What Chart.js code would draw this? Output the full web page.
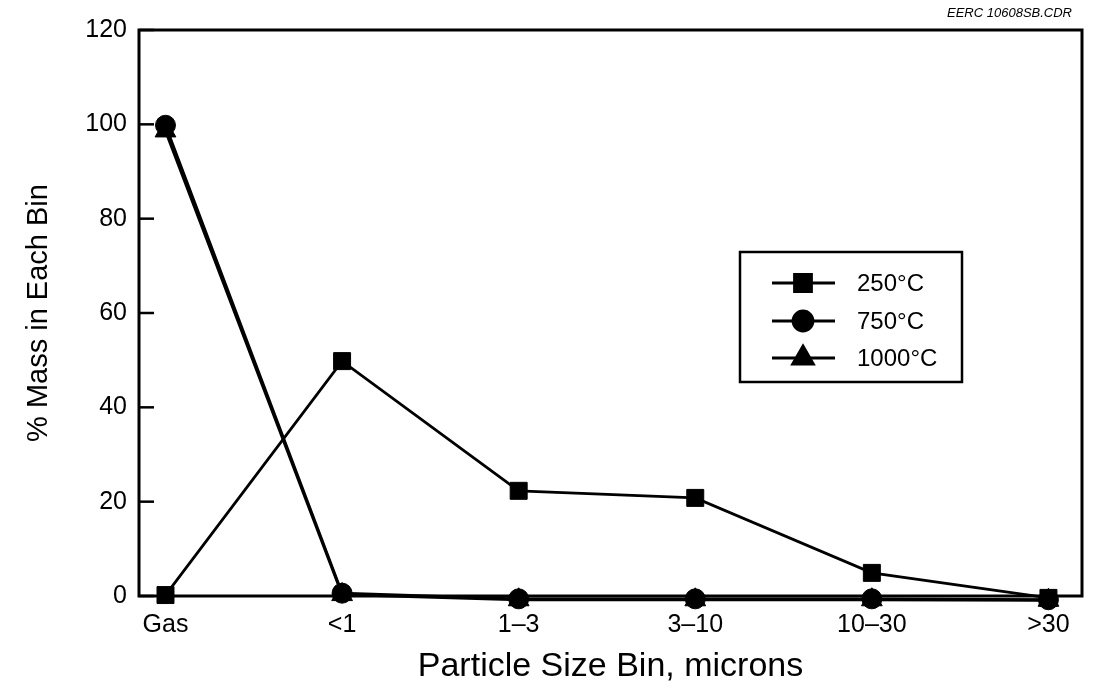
<!DOCTYPE html>
<html>
<head>
<meta charset="utf-8">
<script src="https://cdn.jsdelivr.net/npm/chart.js@4.4.1/dist/chart.umd.min.js"></script>
<style>
  html, body { margin: 0; padding: 0; background: #fff; }
  #wrap { position: relative; width: 1095px; height: 695px; }
</style>
</head>
<body>
<div id="wrap"><canvas id="c" width="1095" height="695"></canvas></div>
<script>
// datos
const categories = ["Gas", "<1", "1\u20133", "3\u201310", "10\u201330", ">30"];
const mass250 = [0.2, 49.8, 22.3, 20.8, 4.9, -0.4];
const mass750 = [99.8, 0.6, -0.6, -0.6, -0.6, -0.8];
const mass1000 = [98.6, 0.3, -0.8, -0.8, -0.8, -0.9];
const yTicks = [0, 20, 40, 60, 80, 100, 120];
const seriesNames = ["250\u00b0C", "750\u00b0C", "1000\u00b0C"];

const FONT = "'Liberation Sans', Arial, sans-serif";

function toXY(arr) {
  return arr.map((v, i) => ({ x: i, y: v }));
}

function serie(label, data, style, radius) {
  return {
    label: label,
    data: toXY(data),
    borderColor: "#000",
    backgroundColor: "#000",
    borderWidth: 2.8,
    pointStyle: style,
    pointRadius: radius,
    pointHoverRadius: radius,
    pointBorderWidth: 1,
    tension: 0,
    clip: false
  };
}

// marco, ticks hacia adentro, leyenda y rotulo
const decor = {
  id: "decor",
  afterDraw(chart) {
    const ctx = chart.ctx;
    const a = chart.chartArea;
    const ys = chart.scales.y;
    ctx.save();
    ctx.strokeStyle = "#000";
    ctx.lineWidth = 3;
    ctx.strokeRect(a.left, a.top, a.right - a.left, a.bottom - a.top);
    ctx.lineWidth = 2.5;
    yTicks.forEach(t => {
      const py = ys.getPixelForValue(t);
      ctx.beginPath();
      ctx.moveTo(a.left, py);
      ctx.lineTo(a.left + 15, py);
      ctx.stroke();
    });

    // leyenda
    const bx = 740, by = 252, bw = 222, bh = 130;
    ctx.lineWidth = 2.5;
    ctx.fillStyle = "#fff";
    ctx.fillRect(bx, by, bw, bh);
    ctx.strokeRect(bx, by, bw, bh);
    const rows = [283, 321, 358];
    chart.data.datasets.forEach((ds, i) => {
      const y = rows[i];
      ctx.strokeStyle = "#000";
      ctx.lineWidth = 2.8;
      ctx.beginPath();
      ctx.moveTo(772, y);
      ctx.lineTo(835, y);
      ctx.stroke();
      ctx.fillStyle = "#000";
      Chart.helpers.drawPoint(ctx, {
        pointStyle: ds.pointStyle,
        radius: ds.pointRadius,
        borderWidth: 1
      }, 803, y);
      ctx.fillStyle = "#000";
      ctx.font = "24px " + FONT;
      ctx.textBaseline = "middle";
      ctx.textAlign = "left";
      ctx.fillText(seriesNames[i], 857, y + 1);
    });

    ctx.font = "italic 13px " + FONT;
    ctx.textAlign = "right";
    ctx.textBaseline = "middle";
    ctx.fillText("EERC 10608SB.CDR", 1072, 13);
    ctx.restore();
  }
};

new Chart(document.getElementById("c"), {
  type: "line",
  data: {
    datasets: [
      serie(seriesNames[0], mass250, "rect", 12),
      serie(seriesNames[1], mass750, "circle", 10),
      serie(seriesNames[2], mass1000, "triangle", 12)
    ]
  },
  options: {
    responsive: false,
    animation: false,
    devicePixelRatio: 1,
    layout: { padding: { left: 0, right: 8, top: 30, bottom: 0 } },
    plugins: { legend: { display: false }, tooltip: { enabled: false } },
    scales: {
      x: {
        type: "linear",
        min: -0.15,
        max: 5.19,
        afterBuildTicks: s => { s.ticks = categories.map((c, i) => ({ value: i })); },
        afterFit: s => { s.height = 99; },
        grid: { display: false, drawTicks: false },
        border: { display: false },
        ticks: {
          autoSkip: false,
          maxRotation: 0,
          padding: 14,
          color: "#000",
          font: { family: FONT, size: 25 },
          callback: v => categories[v]
        },
        title: {
          display: true,
          text: "Particle Size Bin, microns",
          color: "#000",
          font: { family: FONT, size: 34 },
          padding: { top: 0, bottom: 8 }
        }
      },
      y: {
        min: 0,
        max: 120,
        afterBuildTicks: s => { s.ticks = yTicks.map(v => ({ value: v })); },
        afterFit: s => { s.width = 139; },
        grid: { display: false, drawTicks: false },
        border: { display: false },
        ticks: {
          padding: 12,
          color: "#000",
          font: { family: FONT, size: 25 }
        },
        title: {
          display: true,
          text: "% Mass in Each Bin",
          color: "#000",
          font: { family: FONT, size: 29 },
          padding: { top: 22, bottom: 0 }
        }
      }
    }
  },
  plugins: [decor]
});
</script>
</body>
</html>
